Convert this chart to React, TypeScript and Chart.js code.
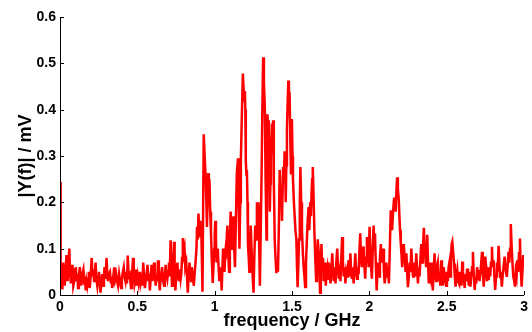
import React, { useEffect, useRef } from "react";
import { Chart, registerables } from "chart.js";

Chart.register(...registerables);

// [frequency in GHz, |Y(f)| in mV]
const lowBandPoints: [number, number][] = [
  [0,0.244],[0.004,0.015],[0.01,0.03],[0.015,0.012],[0.021,0.07],[0.026,0.045],[0.031,0.02],[0.036,0.05],[0.042,0.086],[0.046,0.04],[0.049,0.03],[0.054,0.06],[0.06,0.1],[0.065,0.05],[0.07,0.025],[0.075,0.045],[0.081,0.065],[0.086,0.02],[0.092,0.03],[0.097,0.055],[0.102,0.06],[0.108,0.03],[0.112,0.045],[0.117,0.015],[0.122,0.04],[0.128,0.06],[0.133,0.035],[0.138,0.02],[0.144,0.045],[0.151,0.055],[0.157,0.025],[0.161,0.04],[0.166,0.01],[0.171,0.03],[0.176,0.02],[0.181,0.035],[0.186,0.05],[0.192,0.015],[0.198,0.04],[0.205,0.08],[0.21,0.04],[0.215,0.055],[0.22,0.03],[0.225,0.045],[0.23,0.07],[0.235,0.035],[0.241,0.02],[0.246,0.04],[0.252,0.05],[0.257,0.025],[0.262,0.005],[0.268,0.03],[0.273,0.045],[0.279,0.02],[0.284,0.04],[0.288,0.06],[0.294,0.035],[0.301,0.08],[0.305,0.05],[0.31,0.03],[0.316,0.045],[0.323,0.05],[0.329,0.025],[0.333,0.04],[0.337,0.015],[0.343,0.035],[0.348,0.02],[0.352,0.06],[0.357,0.035],[0.363,0.045],[0.369,0.03],[0.375,0.02],[0.382,0.045],[0.388,0.03],[0.395,0.015],[0.4,0.035],[0.406,0.05],[0.412,0.06],[0.417,0.04],[0.423,0.03],[0.428,0.05],[0.433,0.025],[0.438,0.085],[0.444,0.04],[0.451,0.045],[0.455,0.03],[0.459,0.015],[0.465,0.04],[0.472,0.08],[0.477,0.05],[0.482,0.025],[0.487,0.035],[0.492,0.055],[0.497,0.02],[0.503,0.04],[0.509,0.025],[0.517,0.05],[0.522,0.03],[0.528,0.045],[0.533,0.02],[0.538,0.07],[0.543,0.04],[0.549,0.015],[0.555,0.035],[0.561,0.05],[0.566,0.065],[0.571,0.03],[0.576,0.045],[0.581,0.01],[0.587,0.04],[0.592,0.065],[0.597,0.03],[0.603,0.045],[0.608,0.07],[0.613,0.04],[0.619,0.02],[0.624,0.045],[0.629,0.03],[0.634,0.075],[0.639,0.04],[0.645,0.01],[0.65,0.035],[0.655,0.045],[0.66,0.06],[0.666,0.03],[0.673,0.02],[0.678,0.04],[0.683,0.065],[0.689,0.045],[0.694,0.035],[0.699,0.05],[0.704,0.07],[0.709,0.04],[0.715,0.118],[0.72,0.06],[0.724,0.02],[0.73,0.05],[0.737,0.115],[0.741,0.06],[0.746,0.01],[0.752,0.045],[0.759,0.07],[0.764,0.04],[0.769,0.03],[0.775,0.055],[0.78,0.035],[0.784,0.045],[0.789,0.08],[0.794,0.123],[0.8,0.09],[0.805,0.1],[0.81,0.06],[0.816,0.07],[0.821,0.04],[0.826,0.005],[0.832,0.04],[0.837,0.07],[0.843,0.045],[0.848,0.03],[0.852,0.06],[0.858,0.04],[0.865,0.02],[0.87,0.045],[0.876,0.07],[0.882,0.1],[0.886,0.147],[0.891,0.12],[0.895,0.176],[0.9,0.14],[0.904,0.125],[0.908,0.145],[0.912,0.16],[0.917,0.08],[0.921,0.007],
];

const peakClusterPoints: [number, number][] = [
  [0.929,0.347],[0.935,0.3],[0.942,0.25],[0.946,0.2],[0.95,0.147],[0.954,0.2],[0.958,0.263],[0.962,0.24],[0.966,0.25],[0.971,0.18],[0.976,0.134],[0.981,0.08],[0.987,0.026],[0.992,0.06],[0.997,0.1],[1.0,0.13],[1.004,0.16],[1.008,0.12],[1.012,0.07],[1.016,0.09],[1.02,0.1],[1.025,0.06],[1.03,0.03],[1.035,0.05],[1.039,0.06],[1.045,0.01],[1.05,0.06],[1.054,0.1],[1.058,0.08],[1.063,0.05],[1.067,0.08],[1.071,0.1],[1.077,0.12],[1.082,0.15],[1.087,0.09],[1.093,0.05],[1.098,0.12],[1.103,0.18],[1.108,0.13],[1.112,0.1],[1.117,0.14],[1.121,0.17],[1.126,0.1],[1.131,0.06],[1.137,0.16],[1.143,0.263],[1.147,0.28],[1.151,0.295],[1.155,0.2],[1.16,0.1],[1.165,0.2],[1.169,0.29],[1.175,0.38],[1.182,0.478],[1.186,0.45],[1.19,0.42],[1.195,0.44],[1.198,0.4],[1.201,0.29],[1.205,0.26],[1.208,0.27],[1.212,0.2],[1.215,0.11],[1.22,0.08],[1.224,0.05],[1.228,0.1],[1.233,0.15],[1.238,0.1],[1.243,0.06],[1.247,0.03],[1.251,0.005],[1.256,0.08],[1.262,0.15],[1.267,0.12],[1.273,0.2],[1.278,0.16],[1.283,0.2],[1.288,0.1],[1.292,0.02],[1.298,0.15],[1.303,0.26],[1.308,0.4],[1.313,0.513],[1.318,0.46],[1.324,0.405],[1.329,0.25],[1.335,0.12],[1.338,0.25],[1.341,0.39],[1.346,0.35],[1.35,0.377],[1.353,0.28],[1.356,0.18],[1.36,0.24],[1.363,0.3],[1.367,0.33],[1.371,0.37],[1.375,0.36],[1.378,0.377],[1.382,0.25],[1.388,0.12],[1.393,0.08],[1.399,0.047],[1.404,0.07],[1.409,0.05],[1.415,0.15],[1.42,0.27],[1.426,0.2],[1.431,0.22],[1.435,0.16],[1.442,0.276],[1.447,0.25],[1.452,0.31],[1.456,0.26],[1.459,0.2],[1.463,0.28],[1.467,0.36],[1.472,0.42],[1.476,0.463],[1.48,0.44],[1.484,0.435],[1.488,0.35],[1.493,0.26],[1.496,0.33],[1.499,0.38],[1.503,0.3],[1.506,0.25],[1.512,0.2],[1.517,0.17],[1.522,0.14],[1.528,0.12],[1.532,0.06],[1.536,0.017],[1.541,0.07],[1.545,0.12],[1.55,0.2],[1.554,0.276],[1.559,0.2],[1.564,0.14],[1.57,0.09],[1.575,0.06],[1.58,0.04],[1.585,0.017],[1.59,0.07],[1.596,0.12],[1.601,0.16],[1.607,0.19],[1.612,0.14],[1.617,0.2],[1.622,0.17],[1.626,0.22],[1.63,0.25],[1.634,0.276],[1.64,0.2],[1.645,0.13],[1.65,0.08],[1.656,0.03],[1.661,0.07],[1.666,0.12],[1.673,0.09],[1.677,0.05],[1.681,0.005],[1.686,0.06],
];

const highBandPoints: [number, number][] = [
  [1.69,0.11],[1.695,0.06],[1.7,0.08],[1.704,0.03],[1.708,0.04],[1.713,0.07],[1.718,0.02],[1.723,0.05],[1.728,0.06],[1.733,0.035],[1.738,0.07],[1.744,0.04],[1.749,0.025],[1.755,0.06],[1.76,0.09],[1.765,0.05],[1.77,0.03],[1.776,0.06],[1.781,0.025],[1.786,0.07],[1.792,0.1],[1.797,0.06],[1.802,0.035],[1.808,0.05],[1.813,0.03],[1.818,0.08],[1.824,0.125],[1.829,0.07],[1.834,0.04],[1.84,0.06],[1.845,0.025],[1.85,0.05],[1.856,0.04],[1.861,0.06],[1.866,0.075],[1.872,0.04],[1.877,0.09],[1.882,0.05],[1.887,0.035],[1.893,0.06],[1.898,0.025],[1.904,0.06],[1.909,0.09],[1.914,0.05],[1.92,0.035],[1.925,0.06],[1.93,0.045],[1.936,0.1],[1.941,0.133],[1.946,0.08],[1.951,0.06],[1.957,0.09],[1.962,0.105],[1.968,0.06],[1.973,0.035],[1.978,0.08],[1.984,0.125],[1.99,0.09],[1.995,0.06],[2.001,0.147],[2.006,0.1],[2.011,0.06],[2.016,0.035],[2.021,0.09],[2.027,0.15],[2.031,0.1],[2.036,0.133],[2.042,0.06],[2.047,0.01],[2.052,0.05],[2.057,0.07],[2.063,0.04],[2.068,0.08],[2.074,0.11],[2.079,0.07],[2.084,0.09],[2.089,0.1],[2.094,0.05],[2.099,0.025],[2.105,0.05],[2.11,0.07],[2.115,0.04],[2.12,0.06],[2.126,0.025],[2.132,0.1],[2.138,0.183],[2.143,0.16],[2.147,0.14],[2.153,0.18],[2.16,0.21],[2.165,0.19],[2.17,0.18],[2.174,0.22],[2.179,0.254],[2.184,0.23],[2.19,0.205],[2.194,0.17],[2.198,0.14],[2.203,0.11],[2.207,0.09],[2.212,0.06],[2.218,0.11],[2.223,0.07],[2.228,0.08],[2.234,0.05],[2.239,0.09],[2.244,0.05],[2.249,0.017],[2.255,0.04],[2.26,0.07],[2.265,0.05],[2.271,0.1],[2.277,0.06],[2.282,0.04],[2.288,0.05],[2.293,0.07],[2.298,0.04],[2.303,0.09],[2.309,0.05],[2.314,0.025],[2.319,0.06],[2.324,0.04],[2.33,0.08],[2.335,0.11],[2.341,0.07],[2.346,0.1],[2.352,0.145],[2.356,0.11],[2.361,0.09],[2.367,0.06],[2.374,0.13],[2.379,0.07],[2.384,0.025],[2.389,0.05],[2.394,0.04],[2.399,0.07],[2.404,0.04],[2.41,0.01],[2.415,0.05],[2.421,0.09],[2.426,0.05],[2.431,0.03],[2.436,0.06],[2.442,0.07],[2.447,0.03],[2.453,0.05],[2.458,0.02],[2.464,0.075],[2.469,0.04],[2.474,0.02],[2.48,0.06],[2.485,0.045],[2.49,0.03],[2.496,0.02],[2.501,0.05],[2.507,0.03],[2.512,0.06],[2.517,0.07],[2.522,0.04],[2.527,0.08],[2.532,0.11],[2.536,0.115],[2.542,0.09],[2.547,0.068],[2.552,0.04],[2.557,0.018],[2.562,0.04],[2.568,0.054],[2.573,0.03],[2.579,0.025],[2.584,0.05],[2.59,0.035],[2.595,0.02],[2.6,0.072],[2.605,0.05],[2.611,0.032],[2.616,0.015],[2.621,0.045],[2.627,0.03],[2.632,0.057],[2.637,0.04],[2.643,0.02],[2.648,0.05],[2.653,0.018],[2.658,0.04],[2.664,0.06],[2.669,0.093],[2.675,0.04],[2.681,0.011],[2.686,0.04],[2.691,0.025],[2.696,0.06],[2.702,0.035],[2.707,0.054],[2.712,0.03],[2.718,0.05],[2.723,0.07],[2.728,0.093],[2.733,0.05],[2.739,0.018],[2.744,0.05],[2.749,0.083],[2.755,0.06],[2.76,0.03],[2.765,0.05],[2.771,0.032],[2.776,0.06],[2.781,0.04],[2.786,0.07],[2.792,0.104],[2.797,0.06],[2.803,0.075],[2.808,0.04],[2.813,0.011],[2.819,0.04],[2.824,0.07],[2.829,0.05],[2.835,0.106],[2.84,0.07],[2.845,0.039],[2.85,0.05],[2.856,0.018],[2.861,0.04],[2.867,0.06],[2.874,0.083],[2.879,0.06],[2.883,0.05],[2.888,0.039],[2.893,0.06],[2.899,0.093],[2.904,0.07],[2.909,0.1],[2.914,0.153],[2.92,0.1],[2.925,0.068],[2.93,0.04],[2.936,0.03],[2.941,0.018],[2.946,0.05],[2.951,0.04],[2.956,0.075],[2.962,0.05],[2.967,0.09],[2.973,0.122],[2.978,0.06],[2.984,0.018],[2.989,0.05],[2.995,0.086],[3.0,0.06],
];

const xTickValues = [0, 0.5, 1, 1.5, 2, 2.5, 3];
const yTickValues = [0, 0.1, 0.2, 0.3, 0.4, 0.5, 0.6];
const xAxisTitle = "frequency / GHz";
const yAxisTitle = "|Y(f)| / mV";

const FONT = "'Liberation Sans', Arial, Helvetica, sans-serif";

const inwardTicks = {
  id: "inwardTicks",
  afterDatasetsDraw(chart: any) {
    const { ctx, chartArea, scales } = chart;
    ctx.save();
    ctx.strokeStyle = "#000";
    ctx.lineWidth = 1;
    ctx.beginPath();
    for (const v of xTickValues) {
      const px = Math.round(scales.x.getPixelForValue(v)) + 0.5;
      ctx.moveTo(px, chartArea.bottom);
      ctx.lineTo(px, chartArea.bottom - 4);
    }
    for (const v of yTickValues) {
      const py = Math.round(scales.y.getPixelForValue(v)) + 0.5;
      ctx.moveTo(chartArea.left, py);
      ctx.lineTo(chartArea.left + 4, py);
    }
    ctx.stroke();
    ctx.beginPath();
    ctx.moveTo(chartArea.left + 0.5, chartArea.top);
    ctx.lineTo(chartArea.left + 0.5, chartArea.bottom + 0.5);
    ctx.lineTo(chartArea.right, chartArea.bottom + 0.5);
    ctx.stroke();
    ctx.restore();
  },
};

export default function App() {
  const canvasRef = useRef<HTMLCanvasElement | null>(null);

  useEffect(() => {
    document.body.style.margin = "0";
    const canvas = canvasRef.current;
    if (!canvas) return;
    const points = [...lowBandPoints, ...peakClusterPoints, ...highBandPoints].map(
      ([f, v]) => ({ x: f, y: v })
    );
    const chart = new Chart(canvas, {
      type: "line",
      data: {
        datasets: [
          {
            data: points,
            borderColor: "#ff0000",
            borderWidth: 2.5,
            borderJoinStyle: "miter",
            pointRadius: 0,
            tension: 0,
            fill: false,
          },
        ],
      },
      options: {
        animation: false,
        responsive: false,
        maintainAspectRatio: false,
        layout: { padding: { top: 17, right: 4, left: 0, bottom: 0 } },
        plugins: {
          legend: { display: false },
          tooltip: { enabled: false },
        },
        scales: {
          x: {
            type: "linear",
            min: 0,
            max: 3,
            afterBuildTicks: (s: any) => {
              s.ticks = xTickValues.map((v) => ({ value: v }));
            },
            afterFit: (s: any) => {
              s.height = 37;
            },
            grid: { display: false, drawTicks: false },
            border: { display: false },
            ticks: {
              color: "#000",
              padding: 4,
              maxRotation: 0,
              font: { family: FONT, size: 14, weight: "bold" },
              callback: (v: any) => String(v),
            },
            title: {
              display: true,
              text: xAxisTitle,
              color: "#000",
              padding: { top: 0, bottom: 0 },
              font: { family: FONT, size: 18, weight: "bold", lineHeight: 1.2 },
            },
          },
          y: {
            type: "linear",
            min: 0,
            max: 0.6,
            afterBuildTicks: (s: any) => {
              s.ticks = yTickValues.map((v) => ({ value: v }));
            },
            afterFit: (s: any) => {
              s.width = 60;
            },
            grid: { display: false, drawTicks: false },
            border: { display: false },
            ticks: {
              color: "#000",
              padding: 4,
              font: { family: FONT, size: 14, weight: "bold" },
              callback: (v: any) => String(Math.round(v * 10) / 10),
            },
            title: {
              display: true,
              text: yAxisTitle,
              color: "#000",
              padding: { top: 15, bottom: 0 },
              font: { family: FONT, size: 18, weight: "bold", lineHeight: 1.2 },
            },
          },
        },
      },
      plugins: [inwardTicks],
    });
    return () => chart.destroy();
  }, []);

  return (
    <div style={{ width: 532, height: 332 }}>
      <canvas ref={canvasRef} width={532} height={332} style={{ display: "block", width: 532, height: 332 }} />
    </div>
  );
}
